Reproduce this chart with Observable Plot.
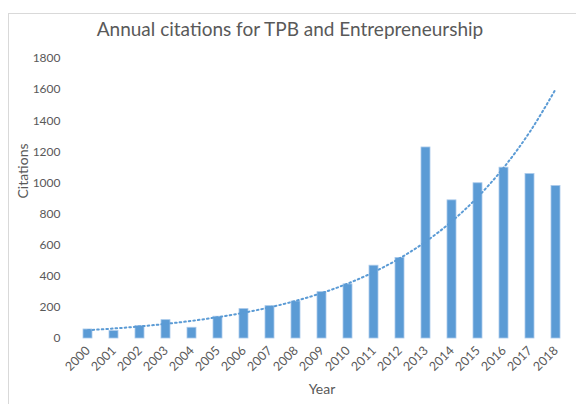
<!DOCTYPE html>
<html>
<head>
<meta charset="utf-8">
<script src="https://cdn.jsdelivr.net/npm/d3@7"></script>
<script src="https://cdn.jsdelivr.net/npm/@observablehq/plot@0.6"></script>
<style>
  html, body { margin: 0; padding: 0; background: #fff; }
  #wrap { position: relative; width: 576px; height: 404px; overflow: hidden; font-family: Lato, "Open Sans", sans-serif; }
  #frame { position: absolute; left: 8px; top: 13px; width: 600px; height: 420px; border-left: 1px solid #d9d9d9; border-top: 1px solid #d9d9d9; }
  #title { position: absolute; left: 0; width: 580px; top: 17px; text-align: center; font-size: 19px; color: #595959; }
  #chart { position: absolute; left: 0; top: 0; }
</style>
</head>
<body>
<div id="wrap">
  <div id="frame"></div>
  <div id="chart"></div>
  <div id="title">Annual citations for TPB and Entrepreneurship</div>
</div>
<script>
const years = ["2000","2001","2002","2003","2004","2005","2006","2007","2008","2009","2010","2011","2012","2013","2014","2015","2016","2017","2018"];
const citations = [58, 48, 80, 118, 69, 140, 189, 208, 238, 298, 348, 468, 518, 1228, 888, 998, 1098, 1057, 980];
const yTicks = [0, 200, 400, 600, 800, 1000, 1200, 1400, 1600, 1800];

const data = years.map((y, i) => ({year: y, value: citations[i], i}));

// Exponential trendline (least squares on ln(value)), as in the spreadsheet chart
const mx = d3.mean(data, d => d.i);
const my = d3.mean(data, d => Math.log(d.value));
const slope = d3.sum(data, d => (d.i - mx) * (Math.log(d.value) - my)) / d3.sum(data, d => (d.i - mx) ** 2);
const icpt = my - slope * mx;
const trend = data.map(d => ({year: d.year, value: Math.exp(icpt + slope * d.i)}));

const blue = "#5b9bd5";
const txt = "#595959";

const chart = Plot.plot({
  width: 576,
  height: 404,
  marginLeft: 73,
  marginRight: 6,
  marginTop: 58,
  marginBottom: 66,
  style: {fontFamily: "Lato, 'Open Sans', sans-serif", fontSize: "12px", color: txt, background: "transparent"},
  x: {type: "band", domain: years, paddingInner: 0.66, paddingOuter: 0.33, label: null},
  y: {domain: [0, 1800], label: null},
  marks: [
    Plot.barY(data, {x: "year", y: "value", fill: blue, stroke: "#a9c9ea", strokeWidth: 0.8}),
    Plot.ruleY([0], {x1: years[0], x2: years[years.length-1], stroke: "#d9d9d9", strokeWidth: 1, insetLeft: -14, insetRight: -14}),
    Plot.line(trend, {x: "year", y: "value", stroke: blue, strokeWidth: 2, strokeDasharray: "1.6 3", curve: "monotone-x"}),
    Plot.axisY({ticks: yTicks, tickFormat: d => String(d), tickSize: 0, tickPadding: 13, fill: txt, fontSize: 12, label: null}),
    Plot.axisX({tickSize: 0, tickRotate: -45, tickPadding: 10, fill: txt, fontSize: 12.5, label: null}),
    Plot.text(["Citations"], {frameAnchor: "left", dx: -50, rotate: -90, fill: txt, fontSize: 14}),
    Plot.text(["Year"], {frameAnchor: "bottom", dy: 55, fill: txt, fontSize: 14})
  ]
});
document.getElementById("chart").appendChild(chart);
</script>
</body>
</html>
